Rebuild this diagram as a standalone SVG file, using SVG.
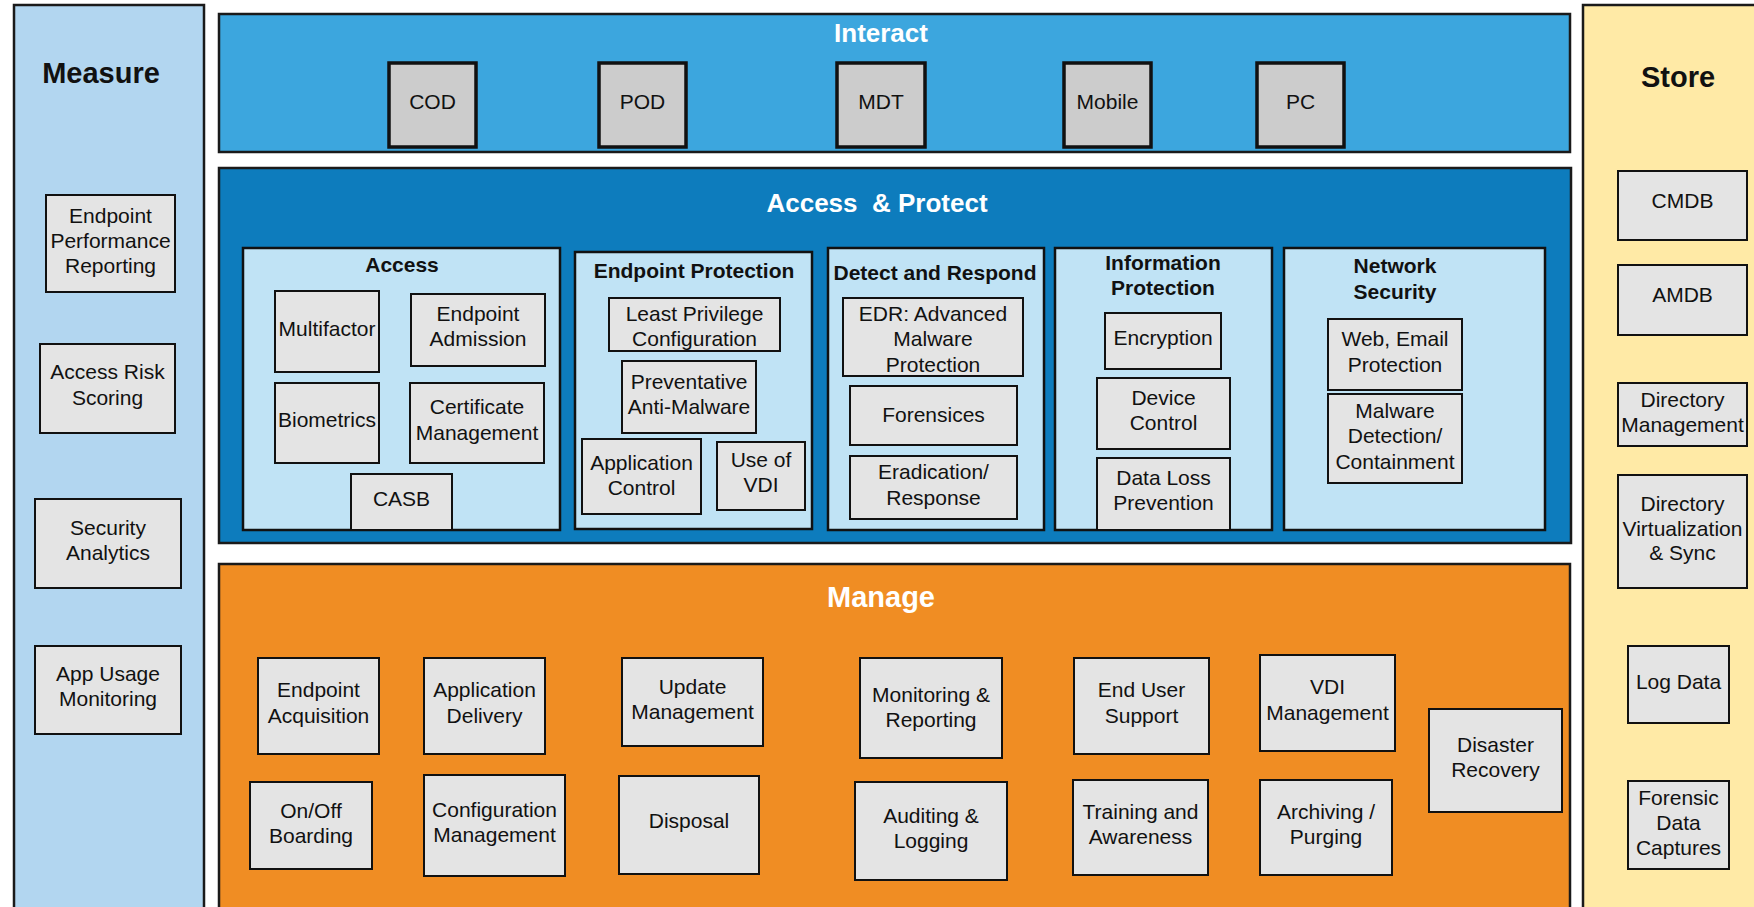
<svg xmlns="http://www.w3.org/2000/svg" width="1754" height="907" viewBox="0 0 1754 907">
<style>
text{font-family:"Liberation Sans",Arial,sans-serif;text-anchor:middle;fill:#111}
.t{font-size:21px}
.h{font-weight:bold;font-size:29px}
.hw{font-weight:bold;font-size:26px;fill:#fff}
.hm{font-weight:bold;font-size:29px;fill:#fff}
.s{font-weight:bold;font-size:21px}
.box{fill:#e4e4e4;stroke:#111;stroke-width:2}
.dev{fill:#cccccc;stroke:#111;stroke-width:3.5}
.sub{fill:#c0e3f5;stroke:#111;stroke-width:2.5}
.pnl{stroke:#1a1a1a;stroke-width:2.5}
</style>
<rect width="1754" height="907" fill="#fff"/>
<g id="measure">
<rect class="pnl" x="14" y="5" width="190" height="915" fill="#b2d6f0"/>
<text class="h" x="101" y="83">Measure</text>
</g>
<g id="interact">
<rect class="pnl" x="219" y="14" width="1351" height="138" fill="#3ca6de"/>
<text class="hw" x="881" y="42">Interact</text>
</g>
<g id="access-protect">
<rect class="pnl" x="219" y="168" width="1352" height="375" fill="#0d7cbd"/>
<text class="hw" x="877" y="212" xml:space="preserve">Access  &amp; Protect</text>
</g>
<g id="manage">
<rect class="pnl" x="219" y="564" width="1351" height="360" fill="#f08d23"/>
<text class="hm" x="881" y="607">Manage</text>
</g>
<g id="store">
<rect class="pnl" x="1583" y="5" width="190" height="915" fill="#ffeaa6"/>
<text class="h" x="1678" y="87">Store</text>
</g>
<g id="access">
<rect class="sub" x="243" y="248" width="317" height="282"/>
<text class="s" x="402" y="272">Access</text>
</g>
<g id="endpoint-protection">
<rect class="sub" x="575" y="252" width="237" height="277"/>
<text class="s" x="694" y="278">Endpoint Protection</text>
</g>
<g id="detect-respond">
<rect class="sub" x="828" y="248" width="216" height="282"/>
<text class="s" x="935" y="280">Detect and Respond</text>
</g>
<g id="information-protection">
<rect class="sub" x="1055" y="248" width="217" height="282"/>
<text class="s" x="1163"><tspan x="1163" y="270">Information</tspan><tspan x="1163" y="295">Protection</tspan></text>
</g>
<g id="network-security">
<rect class="sub" x="1284" y="248" width="261" height="282"/>
<text class="s" x="1395"><tspan x="1395" y="273">Network</tspan><tspan x="1395" y="299">Security</tspan></text>
</g>

<g id="m-endpoint-perf"><rect class="box" x="46" y="195" width="129" height="97"/><text class="t"><tspan x="110.5" y="223">Endpoint</tspan><tspan x="110.5" y="248">Performance</tspan><tspan x="110.5" y="273">Reporting</tspan></text></g>
<g id="m-access-risk"><rect class="box" x="40" y="344" width="135" height="89"/><text class="t"><tspan x="107.5" y="379">Access Risk</tspan><tspan x="107.5" y="405">Scoring</tspan></text></g>
<g id="m-security-analytics"><rect class="box" x="35" y="499" width="146" height="89"/><text class="t"><tspan x="108" y="535">Security</tspan><tspan x="108" y="560">Analytics</tspan></text></g>
<g id="m-app-usage"><rect class="box" x="35" y="646" width="146" height="88"/><text class="t"><tspan x="108" y="681">App Usage</tspan><tspan x="108" y="706">Monitoring</tspan></text></g>

<g id="i-cod"><rect class="dev" x="389" y="63" width="87" height="84"/><text class="t" x="432.5" y="109">COD</text></g>
<g id="i-pod"><rect class="dev" x="599" y="63" width="87" height="84"/><text class="t" x="642.5" y="109">POD</text></g>
<g id="i-mdt"><rect class="dev" x="837" y="63" width="88" height="84"/><text class="t" x="881" y="109">MDT</text></g>
<g id="i-mobile"><rect class="dev" x="1064" y="63" width="87" height="84"/><text class="t" x="1107.5" y="109">Mobile</text></g>
<g id="i-pc"><rect class="dev" x="1257" y="63" width="87" height="84"/><text class="t" x="1300.5" y="109">PC</text></g>

<g id="a-multifactor"><rect class="box" x="275" y="291" width="104" height="81"/><text class="t" x="327" y="336">Multifactor</text></g>
<g id="a-endpoint-admission"><rect class="box" x="411" y="294" width="134" height="72"/><text class="t"><tspan x="478" y="321">Endpoint</tspan><tspan x="478" y="346">Admission</tspan></text></g>
<g id="a-biometrics"><rect class="box" x="275" y="383" width="104" height="80"/><text class="t" x="327" y="427">Biometrics</text></g>
<g id="a-certificate"><rect class="box" x="410" y="383" width="134" height="80"/><text class="t"><tspan x="477" y="414">Certificate</tspan><tspan x="477" y="440">Management</tspan></text></g>
<g id="a-casb"><rect class="box" x="351" y="474" width="101" height="56"/><text class="t" x="401.5" y="506">CASB</text></g>

<g id="e-least-privilege"><rect class="box" x="609" y="298" width="171" height="53"/><text class="t"><tspan x="694.5" y="321">Least Privilege</tspan><tspan x="694.5" y="346">Configuration</tspan></text></g>
<g id="e-preventative"><rect class="box" x="622" y="361" width="134" height="72"/><text class="t"><tspan x="689" y="389">Preventative</tspan><tspan x="689" y="414">Anti-Malware</tspan></text></g>
<g id="e-app-control"><rect class="box" x="582" y="439" width="119" height="75"/><text class="t"><tspan x="641.5" y="470">Application</tspan><tspan x="641.5" y="495">Control</tspan></text></g>
<g id="e-use-vdi"><rect class="box" x="717" y="442" width="88" height="68"/><text class="t"><tspan x="761" y="467">Use of</tspan><tspan x="761" y="492">VDI</tspan></text></g>

<g id="d-edr"><rect class="box" x="843" y="298" width="180" height="78"/><text class="t"><tspan x="933" y="321">EDR: Advanced</tspan><tspan x="933" y="346">Malware</tspan><tspan x="933" y="372">Protection</tspan></text></g>
<g id="d-forensices"><rect class="box" x="850" y="386" width="167" height="59"/><text class="t" x="933.5" y="422">Forensices</text></g>
<g id="d-eradication"><rect class="box" x="850" y="456" width="167" height="63"/><text class="t"><tspan x="933.5" y="479">Eradication/</tspan><tspan x="933.5" y="505">Response</tspan></text></g>

<g id="p-encryption"><rect class="box" x="1105" y="313" width="116" height="56"/><text class="t" x="1163" y="345">Encryption</text></g>
<g id="p-device-control"><rect class="box" x="1097" y="378" width="133" height="71"/><text class="t"><tspan x="1163.5" y="405">Device</tspan><tspan x="1163.5" y="430">Control</tspan></text></g>
<g id="p-dlp"><rect class="box" x="1097" y="458" width="133" height="72"/><text class="t"><tspan x="1163.5" y="485">Data Loss</tspan><tspan x="1163.5" y="510">Prevention</tspan></text></g>

<g id="n-web-email"><rect class="box" x="1328" y="319" width="134" height="71"/><text class="t"><tspan x="1395" y="346">Web, Email</tspan><tspan x="1395" y="372">Protection</tspan></text></g>
<g id="n-malware"><rect class="box" x="1328" y="394" width="134" height="89"/><text class="t"><tspan x="1395" y="418">Malware</tspan><tspan x="1395" y="443">Detection/</tspan><tspan x="1395" y="469">Containment</tspan></text></g>

<g id="s-cmdb"><rect class="box" x="1618" y="171" width="129" height="69"/><text class="t" x="1682.5" y="208">CMDB</text></g>
<g id="s-amdb"><rect class="box" x="1618" y="265" width="129" height="70"/><text class="t" x="1682.5" y="302">AMDB</text></g>
<g id="s-dir-mgmt"><rect class="box" x="1618" y="383" width="129" height="63"/><text class="t"><tspan x="1682.5" y="407">Directory</tspan><tspan x="1682.5" y="432">Management</tspan></text></g>
<g id="s-dir-virt"><rect class="box" x="1618" y="475" width="129" height="113"/><text class="t"><tspan x="1682.5" y="511">Directory</tspan><tspan x="1682.5" y="536">Virtualization</tspan><tspan x="1682.5" y="560">&amp; Sync</tspan></text></g>
<g id="s-log-data"><rect class="box" x="1628" y="646" width="101" height="77"/><text class="t" x="1678.5" y="689">Log Data</text></g>
<g id="s-forensic"><rect class="box" x="1628" y="781" width="101" height="88"/><text class="t"><tspan x="1678.5" y="805">Forensic</tspan><tspan x="1678.5" y="830">Data</tspan><tspan x="1678.5" y="855">Captures</tspan></text></g>

<g id="g-endpoint-acq"><rect class="box" x="258" y="658" width="121" height="96"/><text class="t"><tspan x="318.5" y="697">Endpoint</tspan><tspan x="318.5" y="723">Acquisition</tspan></text></g>
<g id="g-app-delivery"><rect class="box" x="424" y="658" width="121" height="96"/><text class="t"><tspan x="484.5" y="697">Application</tspan><tspan x="484.5" y="723">Delivery</tspan></text></g>
<g id="g-onoff"><rect class="box" x="250" y="782" width="122" height="87"/><text class="t"><tspan x="311" y="818">On/Off</tspan><tspan x="311" y="843">Boarding</tspan></text></g>
<g id="g-config"><rect class="box" x="424" y="775" width="141" height="101"/><text class="t"><tspan x="494.5" y="817">Configuration</tspan><tspan x="494.5" y="842">Management</tspan></text></g>
<g id="g-update"><rect class="box" x="622" y="658" width="141" height="88"/><text class="t"><tspan x="692.5" y="694">Update</tspan><tspan x="692.5" y="719">Management</tspan></text></g>
<g id="g-disposal"><rect class="box" x="619" y="776" width="140" height="98"/><text class="t" x="689" y="828">Disposal</text></g>
<g id="g-monitoring"><rect class="box" x="860" y="658" width="142" height="100"/><text class="t"><tspan x="931" y="702">Monitoring &amp;</tspan><tspan x="931" y="727">Reporting</tspan></text></g>
<g id="g-auditing"><rect class="box" x="855" y="782" width="152" height="98"/><text class="t"><tspan x="931" y="823">Auditing &amp;</tspan><tspan x="931" y="848">Logging</tspan></text></g>
<g id="g-end-user"><rect class="box" x="1074" y="658" width="135" height="96"/><text class="t"><tspan x="1141.5" y="697">End User</tspan><tspan x="1141.5" y="723">Support</tspan></text></g>
<g id="g-training"><rect class="box" x="1073" y="780" width="135" height="95"/><text class="t"><tspan x="1140.5" y="819">Training and</tspan><tspan x="1140.5" y="844">Awareness</tspan></text></g>
<g id="g-vdi"><rect class="box" x="1260" y="655" width="135" height="96"/><text class="t"><tspan x="1327.5" y="694">VDI</tspan><tspan x="1327.5" y="720">Management</tspan></text></g>
<g id="g-archiving"><rect class="box" x="1260" y="780" width="132" height="95"/><text class="t"><tspan x="1326" y="819">Archiving /</tspan><tspan x="1326" y="844">Purging</tspan></text></g>
<g id="g-disaster"><rect class="box" x="1429" y="709" width="133" height="103"/><text class="t"><tspan x="1495.5" y="752">Disaster</tspan><tspan x="1495.5" y="777">Recovery</tspan></text></g>
</svg>
